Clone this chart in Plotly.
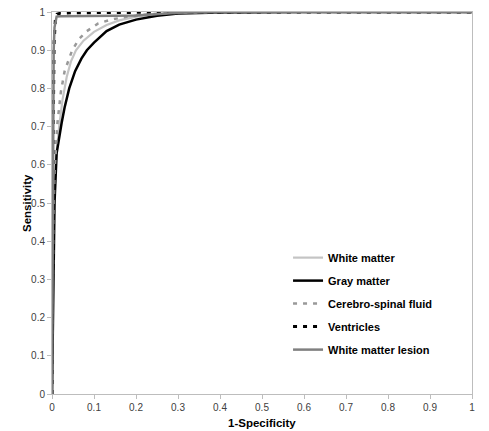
import plotly.graph_objects as go

# 1-Specificity (FPR) and Sensitivity (TPR) per series
wm_x = [0, 0.003, 0.006, 0.01, 0.017, 0.025, 0.035, 0.045, 0.057, 0.075, 0.1, 0.13, 0.16, 0.2, 0.25, 0.3, 0.5, 1.0]
wm_y = [0, 0.4, 0.53, 0.62, 0.7, 0.77, 0.83, 0.87, 0.9, 0.925, 0.948, 0.966, 0.978, 0.988, 0.994, 0.997, 1, 1]

gm_x = [0, 0.003, 0.006, 0.011, 0.016, 0.023, 0.03, 0.041, 0.055, 0.07, 0.083, 0.1, 0.13, 0.16, 0.2, 0.25, 0.3, 0.4, 0.6, 1.0]
gm_y = [0, 0.35, 0.5, 0.63, 0.665, 0.71, 0.75, 0.8, 0.845, 0.878, 0.9, 0.92, 0.95, 0.967, 0.98, 0.99, 0.996, 0.999, 1, 1]

csf_x = [0, 0.003, 0.006, 0.009, 0.013, 0.021, 0.03, 0.048, 0.065, 0.083, 0.11, 0.14, 0.18, 0.22, 0.27, 0.35, 0.5, 1.0]
csf_y = [0, 0.45, 0.58, 0.65, 0.71, 0.79, 0.845, 0.9, 0.93, 0.95, 0.97, 0.98, 0.988, 0.993, 0.997, 0.999, 1, 1]

ven_x = [0, 0.002, 0.005, 0.008, 0.012, 0.02, 0.05, 0.1, 0.2, 0.3, 0.5, 1.0]
ven_y = [0, 0.6, 0.92, 0.98, 0.994, 0.997, 0.998, 0.998, 0.999, 1, 1, 1]

wml_x = [0, 0.002, 0.004, 0.006, 0.011, 0.02, 0.05, 0.1, 0.15, 0.2, 0.25, 0.3, 0.4, 1.0]
wml_y = [0, 0.6, 0.9, 0.96, 0.988, 0.989, 0.989, 0.99, 0.99, 0.991, 0.995, 0.998, 1, 1]

names = ["White matter", "Gray matter", "Cerebro-spinal fluid", "Ventricles", "White matter lesion"]
xs = [wm_x, gm_x, csf_x, ven_x, wml_x]
ys = [wm_y, gm_y, csf_y, ven_y, wml_y]
styles = [
    dict(color="#c4c4c4", width=2.2),
    dict(color="#000000", width=2.5),
    dict(color="#999999", width=2.5, dash="4px,6px"),
    dict(color="#000000", width=3, dash="4px,6px"),
    dict(color="#808080", width=2.5),
]

fig = go.Figure()
for i, (n, x, y, s) in enumerate(zip(names, xs, ys, styles)):
    fig.add_trace(go.Scatter(x=x, y=y, mode="lines", name=f"<b>{n}</b>", line=s, legendgroup=f"g{i}"))

axis_common = dict(
    range=[0, 1], dtick=0.1, showgrid=False, zeroline=False,
    showline=True, linecolor="#bdbdbd", linewidth=1, mirror=True,
    ticks="outside", ticklen=4, tickcolor="#bdbdbd", automargin=False,
    ticklabeloverflow="allow",
    tickfont=dict(family="Liberation Sans, Arial", size=10, color="#404040"),
)

fig.update_layout(
    width=481, height=423,
    margin=dict(l=44, r=17, t=4, b=37, autoexpand=False),
    paper_bgcolor="white", plot_bgcolor="white",
    font=dict(family="Liberation Sans, Arial"),
    xaxis=axis_common,
    yaxis=axis_common,
    legend=dict(x=0.562, y=0.395, xanchor="left", yanchor="top",
                font=dict(size=11, color="#000", family="Liberation Sans, Arial"),
                bgcolor="rgba(0,0,0,0)", traceorder="grouped", tracegroupgap=4,
                itemwidth=30),
    annotations=[
        dict(text="<b>1-Specificity</b>", xref="paper", yref="paper", x=0.5, y=-0.076,
             xanchor="center", yanchor="middle", showarrow=False,
             font=dict(size=11.5, color="#000")),
        dict(text="<b>Sensitivity</b>", xref="paper", yref="paper", x=-0.0595, y=0.5,
             xanchor="center", yanchor="middle", showarrow=False, textangle=-90,
             font=dict(size=11.5, color="#000")),
    ],
)

fig.write_html("out.html")
